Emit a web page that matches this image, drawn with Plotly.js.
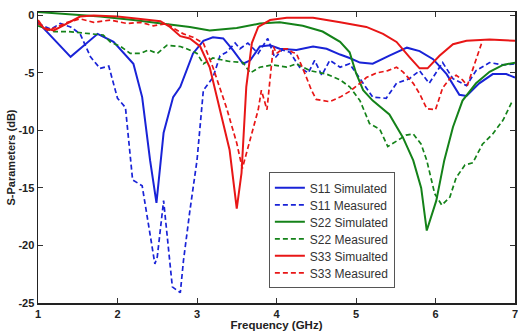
<!DOCTYPE html>
<html>
<head>
<meta charset="utf-8">
<script src="https://cdn.plot.ly/plotly-3.0.1.min.js"></script>
<style>html,body{margin:0;padding:0;background:#fff;}#chart{width:518px;height:331px;}</style>
</head>
<body>
<div id="chart"></div>
<script>
// ---- Data (frequency in GHz, S-parameters in dB) ----
var s11SimF = [1.0,1.41,1.75,1.95,2.2,2.31,2.41,2.49,2.58,2.7,2.79,2.95,3.08,3.2,3.33,3.45,3.58,3.67,3.79,3.92,4.04,4.25,4.46,4.63,4.8,4.92,5.05,5.21,5.42,5.64,5.8,5.97,6.14,6.3,6.39,6.55,6.72,6.89,7.0];
var s11SimDb = [-0.6,-3.6,-1.6,-2.3,-4.2,-7.1,-12.6,-16.3,-10.2,-7.1,-6.2,-3.3,-2.2,-1.9,-2.0,-3.0,-4.2,-3.9,-2.7,-2.6,-2.9,-3.0,-2.7,-2.9,-3.4,-3.7,-4.1,-4.2,-3.5,-2.8,-3.1,-3.8,-5.1,-6.9,-7.0,-5.9,-5.1,-5.1,-5.4];

var s11MeasF = [1.0,1.16,1.28,1.41,1.53,1.66,1.78,1.89,2.0,2.1,2.19,2.31,2.47,2.5,2.58,2.69,2.79,2.83,2.91,3.0,3.08,3.2,3.29,3.37,3.48,3.54,3.64,3.77,3.89,3.98,4.07,4.17,4.29,4.4,4.48,4.57,4.67,4.8,4.92,5.0,5.05,5.21,5.38,5.51,5.67,5.8,5.92,6.09,6.22,6.39,6.51,6.68,6.85,7.0];
var s11MeasDb = [-0.7,-1.2,-0.7,-1.0,-1.6,-3.6,-4.6,-4.4,-7.2,-8.0,-14.3,-14.8,-21.6,-21.0,-16.1,-23.6,-24.1,-21.3,-17.0,-12.6,-6.5,-5.4,-3.5,-3.2,-2.4,-2.9,-2.4,-3.3,-2.0,-3.7,-3.0,-3.2,-4.5,-5.0,-3.9,-5.2,-3.9,-4.5,-4.2,-5.0,-5.4,-7.1,-7.2,-5.9,-5.5,-4.8,-5.9,-4.1,-5.5,-6.1,-4.8,-4.1,-4.3,-4.2];

var s22SimF = [1.0,1.37,1.78,2.2,2.54,2.79,2.91,3.16,3.5,3.79,4.04,4.33,4.58,4.8,4.92,5.0,5.09,5.21,5.42,5.59,5.72,5.82,5.89,6.01,6.11,6.22,6.34,6.51,6.68,6.85,7.0];
var s22SimDb = [0.3,0.1,-0.1,-0.4,-0.7,-0.9,-1.0,-1.3,-1.1,-0.7,-0.6,-0.9,-1.4,-2.3,-3.2,-5.0,-6.5,-7.4,-8.6,-10.6,-12.6,-15.0,-18.7,-16.1,-12.6,-9.7,-7.4,-5.9,-4.9,-4.3,-4.1];

var s22MeasF = [1.0,1.2,1.37,1.53,1.7,1.82,1.91,2.04,2.16,2.29,2.39,2.5,2.62,2.79,2.87,3.0,3.08,3.2,3.41,3.58,3.67,3.79,3.95,4.13,4.25,4.42,4.63,4.8,4.92,5.05,5.17,5.3,5.4,5.51,5.63,5.72,5.82,5.89,5.99,6.08,6.18,6.26,6.37,6.47,6.59,6.72,6.85,6.97];
var s22MeasDb = [-0.9,-1.4,-1.4,-1.5,-1.6,-1.7,-2.3,-2.7,-3.3,-3.3,-3.0,-3.3,-2.6,-2.7,-2.9,-3.3,-4.2,-3.7,-4.0,-4.1,-5.0,-4.5,-4.3,-4.5,-4.2,-4.8,-5.1,-5.6,-6.2,-7.4,-9.4,-9.9,-11.4,-10.9,-10.4,-10.3,-11.2,-12.6,-15.5,-16.5,-15.8,-14.1,-13.0,-12.8,-11.2,-10.3,-9.1,-7.4];

var s33SimF = [1.0,1.07,1.2,1.37,1.53,1.7,2.0,2.29,2.54,2.66,2.79,2.91,3.04,3.16,3.29,3.41,3.5,3.56,3.62,3.69,3.77,3.92,4.13,4.46,4.8,5.13,5.34,5.51,5.67,5.8,5.9,6.05,6.22,6.39,6.68,7.0];
var s33SimDb = [-0.4,-1.1,-1.3,-0.7,-0.1,0.0,-0.1,-0.3,-0.5,-1.0,-1.8,-2.0,-2.7,-4.5,-8.2,-11.7,-16.8,-13.7,-6.2,-2.4,-1.0,-0.4,-0.2,-0.2,-0.6,-1.0,-1.6,-2.3,-3.6,-4.6,-4.6,-3.5,-2.5,-2.2,-2.1,-2.2];

var s33MeasF = [1.0,1.12,1.24,1.37,1.53,1.7,1.91,2.12,2.29,2.45,2.62,2.7,2.83,2.95,3.08,3.2,3.37,3.5,3.57,3.62,3.71,3.77,3.81,3.88,3.96,4.0,4.08,4.14,4.2,4.25,4.36,4.44,4.5,4.67,4.8,4.92,5.05,5.13,5.26,5.4,5.51,5.59,5.72,5.8,5.89,6.0,6.09,6.18,6.26,6.34,6.4,6.49,6.59];
var s33MeasDb = [-0.7,-1.3,-1.0,-0.6,-0.3,-0.6,-0.4,-0.7,-0.6,-0.9,-0.7,-1.1,-1.6,-1.9,-2.4,-4.5,-8.0,-11.1,-13.3,-12.0,-9.7,-8.2,-6.5,-8.2,-2.7,-3.3,-2.9,-2.9,-3.2,-3.3,-5.1,-6.5,-7.3,-7.5,-7.1,-6.6,-5.9,-5.4,-5.0,-4.8,-4.5,-4.9,-5.9,-6.8,-8.1,-8.2,-6.3,-5.5,-5.2,-5.6,-6.1,-4.2,-2.2];

var seriesNames = ["S11 Simulated","S11 Measured","S22 Simulated","S22 Measured","S33 Simualted","S33 Measured"];
var xTickVals = [1,2,3,4,5,6,7];
var yTickVals = [0,-5,-10,-15,-20,-25];

var BLUE = "rgb(25,35,215)", GREEN = "rgb(20,130,25)", RED = "rgb(232,22,22)";

function tr(x, y, name, color, dash) {
  return {x: x, y: y, name: name, type: "scatter", mode: "lines",
          line: {color: color, width: dash === "solid" ? 2 : 1.7, dash: dash}};
}

var DASH = "5px,3px";
var data = [
  tr(s11SimF, s11SimDb, seriesNames[0], BLUE, "solid"),
  tr(s11MeasF, s11MeasDb, seriesNames[1], BLUE, DASH),
  tr(s22SimF, s22SimDb, seriesNames[2], GREEN, "solid"),
  tr(s22MeasF, s22MeasDb, seriesNames[3], GREEN, DASH),
  tr(s33SimF, s33SimDb, seriesNames[4], RED, "solid"),
  tr(s33MeasF, s33MeasDb, seriesNames[5], RED, DASH)
];

var FONT = "Liberation Sans, Arial, sans-serif";
var tickFont = {family: FONT, size: 11, color: "#222", weight: "bold"};

var layout = {
  width: 518, height: 331,
  margin: {l: 38, r: 3, t: 12, b: 28},
  paper_bgcolor: "#fff", plot_bgcolor: "#fff",
  showlegend: true,
  legend: {
    x: 0.484, y: 0.449, xanchor: "left", yanchor: "top",
    bgcolor: "#fff", bordercolor: "#555", borderwidth: 1,
    font: {family: FONT, size: 12, color: "#333"}
  },
  xaxis: {
    range: [1, 7], tickvals: xTickVals, ticktext: xTickVals.map(String),
    ticks: "inside", ticklen: 5, tickcolor: "#333", showgrid: false, zeroline: false,
    showline: true, linecolor: "#222", linewidth: 1.5, mirror: "ticks",
    tickfont: tickFont, ticklabeloverflow: "allow",
    title: {text: "Frequency (GHz)", standoff: 0,
            font: {family: FONT, size: 11.5, color: "#222", weight: "bold"}}
  },
  yaxis: {
    range: [-25, 0.3], tickvals: yTickVals, ticktext: yTickVals.map(String),
    ticks: "inside", ticklen: 5, tickcolor: "#333", showgrid: false, zeroline: false,
    showline: true, linecolor: "#222", linewidth: 1.5, mirror: "ticks",
    tickfont: tickFont, ticklabeloverflow: "allow",
    title: {text: "S-Parameters (dB)", standoff: 0,
            font: {family: FONT, size: 11, color: "#222", weight: "bold"}}
  }
};

var gd = document.getElementById("chart");
Plotly.newPlot(gd, data, layout, {displayModeBar: false, staticPlot: true}).then(function () {
  // tighten legend row spacing to match the reference
  var step = 17;
  var items = gd.querySelectorAll(".legend .traces");
  if (items.length > 1) {
    var re = /translate\(\s*([-\d.]+)[ ,]+([-\d.]+)\s*\)/;
    var m0 = re.exec(items[0].getAttribute("transform"));
    var m1 = re.exec(items[1].getAttribute("transform"));
    if (m0 && m1) {
      var x0 = +m0[1], y0 = +m0[2], orig = (+m1[2]) - y0;
      items.forEach(function (el, i) {
        el.setAttribute("transform", "translate(" + x0 + "," + (y0 + i * step) + ")");
      });
      var bg = gd.querySelector(".legend .bg");
      if (bg) {
        var h = +bg.getAttribute("height");
        bg.setAttribute("height", h - (orig - step) * (items.length - 1));
      }
    }
  }
});
</script>
</body>
</html>
